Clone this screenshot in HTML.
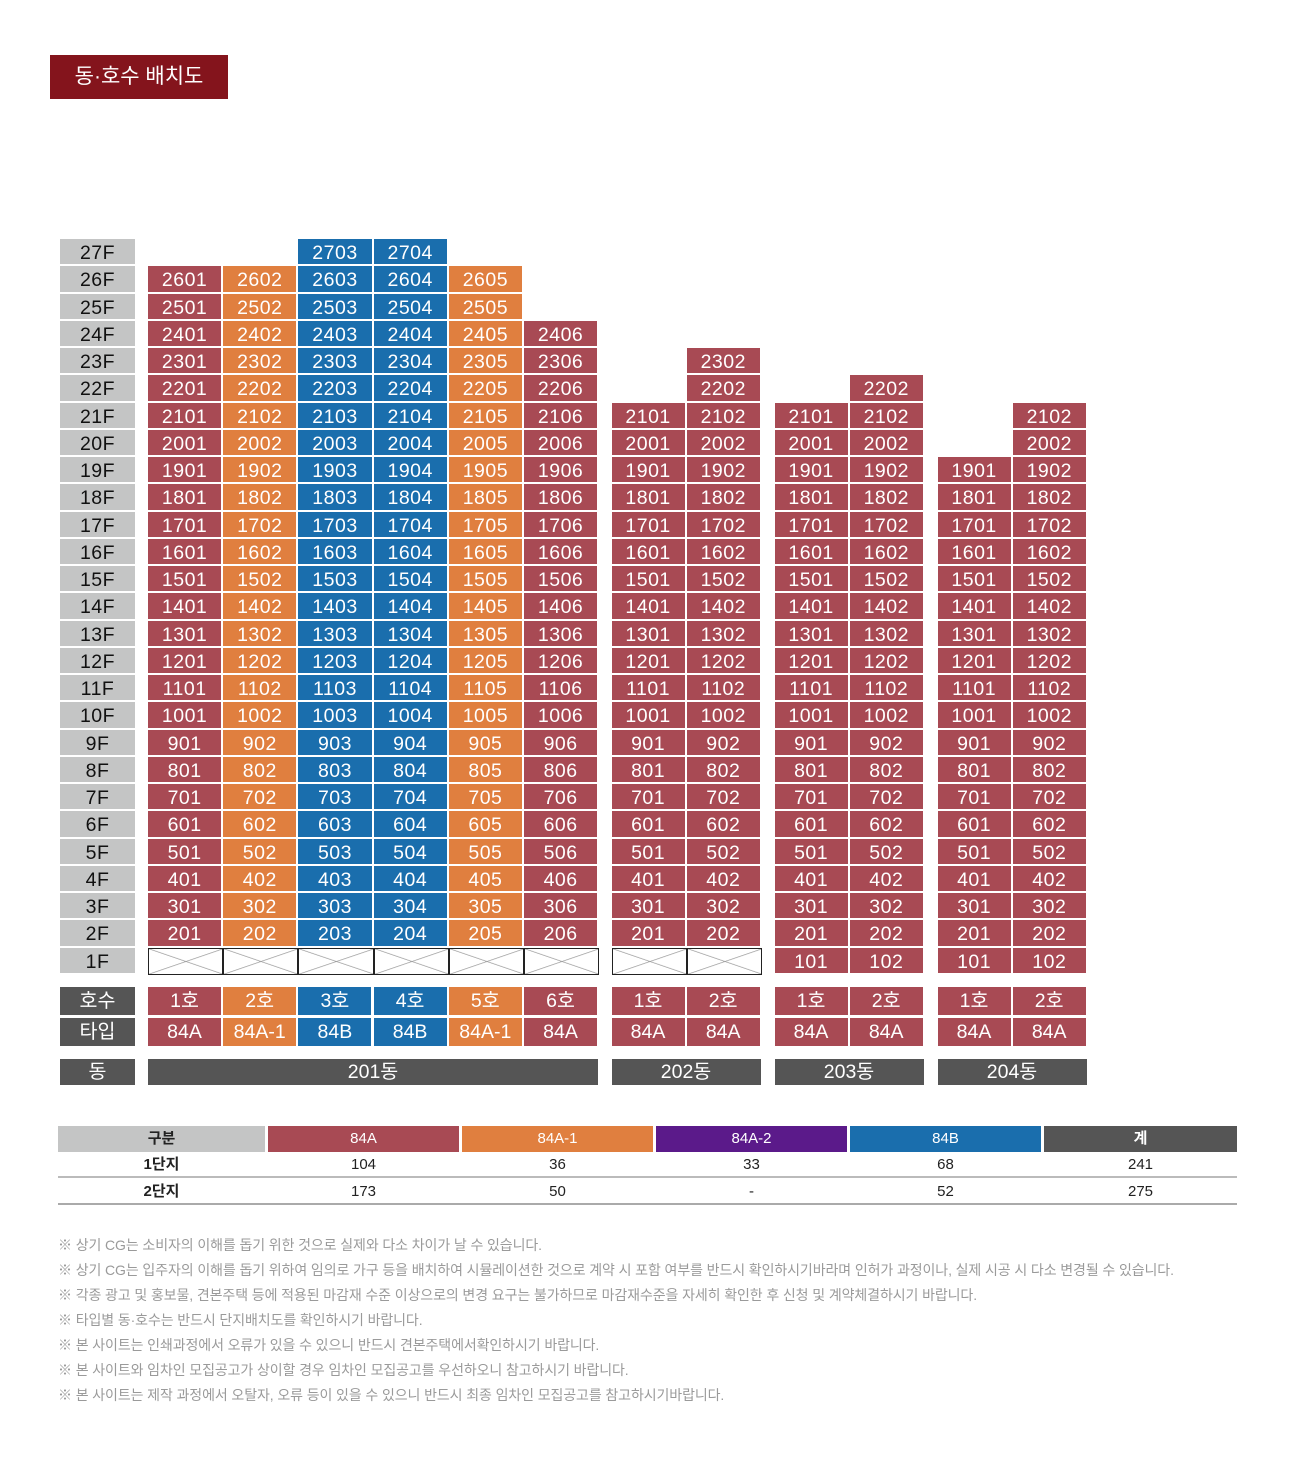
<!DOCTYPE html>
<html><head><meta charset="utf-8"><style>
*{margin:0;padding:0;box-sizing:border-box}
body{width:1300px;height:1459px;background:#fff;position:relative;overflow:hidden;font-family:"Liberation Sans","Noto Sans CJK KR",sans-serif}
.t{position:absolute;left:50px;top:55px;width:178px;height:44px;background:#84141c;color:#fff;font-size:21px;line-height:44px;text-align:center}
.c{position:absolute;width:75.2px}
.c i{display:block;font-style:normal;height:27.26px;border-right:2px solid #fff;border-bottom:2px solid #fff;color:#fff;font-size:19.5px;line-height:25px;padding-top:2px;text-align:center;letter-spacing:.5px}
.r i{background:#a84a54}.o i{background:#e07f3f}.b i{background:#1a6ead}
.f i{background:#c4c5c5;color:#111;border-right:none}
.c i.x{background:#fff;border:1.5px solid #222;background-image:linear-gradient(to top right,transparent 49%,#999 50%,transparent 52%),linear-gradient(to bottom right,transparent 49%,#999 50%,transparent 52%)}
.k{position:absolute;height:28px;color:#fff;font-size:19.5px;line-height:29px;text-align:center}
.tb{position:absolute;left:58px;top:1126px;width:1179px;font-size:15px}
.tb div{position:absolute;text-align:center}
.n{position:absolute;left:58px;color:#9a9a9a;font-size:14px;letter-spacing:-.1px}
</style></head><body>
<div class="t">동·호수 배치도</div>
<div class="c f" style="left:60px;top:239px;width:75px"><i>27F</i><i>26F</i><i>25F</i><i>24F</i><i>23F</i><i>22F</i><i>21F</i><i>20F</i><i>19F</i><i>18F</i><i>17F</i><i>16F</i><i>15F</i><i>14F</i><i>13F</i><i>12F</i><i>11F</i><i>10F</i><i>9F</i><i>8F</i><i>7F</i><i>6F</i><i>5F</i><i>4F</i><i>3F</i><i>2F</i><i>1F</i></div>

<div class="c r" style="left:148px;top:266.26px"><i>2601</i><i>2501</i><i>2401</i><i>2301</i><i>2201</i><i>2101</i><i>2001</i><i>1901</i><i>1801</i><i>1701</i><i>1601</i><i>1501</i><i>1401</i><i>1301</i><i>1201</i><i>1101</i><i>1001</i><i>901</i><i>801</i><i>701</i><i>601</i><i>501</i><i>401</i><i>301</i><i>201</i><i class="x"></i></div>
<div class="c o" style="left:223.2px;top:266.26px"><i>2602</i><i>2502</i><i>2402</i><i>2302</i><i>2202</i><i>2102</i><i>2002</i><i>1902</i><i>1802</i><i>1702</i><i>1602</i><i>1502</i><i>1402</i><i>1302</i><i>1202</i><i>1102</i><i>1002</i><i>902</i><i>802</i><i>702</i><i>602</i><i>502</i><i>402</i><i>302</i><i>202</i><i class="x"></i></div>
<div class="c b" style="left:298.4px;top:239px"><i>2703</i><i>2603</i><i>2503</i><i>2403</i><i>2303</i><i>2203</i><i>2103</i><i>2003</i><i>1903</i><i>1803</i><i>1703</i><i>1603</i><i>1503</i><i>1403</i><i>1303</i><i>1203</i><i>1103</i><i>1003</i><i>903</i><i>803</i><i>703</i><i>603</i><i>503</i><i>403</i><i>303</i><i>203</i><i class="x"></i></div>
<div class="c b" style="left:373.6px;top:239px"><i>2704</i><i>2604</i><i>2504</i><i>2404</i><i>2304</i><i>2204</i><i>2104</i><i>2004</i><i>1904</i><i>1804</i><i>1704</i><i>1604</i><i>1504</i><i>1404</i><i>1304</i><i>1204</i><i>1104</i><i>1004</i><i>904</i><i>804</i><i>704</i><i>604</i><i>504</i><i>404</i><i>304</i><i>204</i><i class="x"></i></div>
<div class="c o" style="left:448.8px;top:266.26px"><i>2605</i><i>2505</i><i>2405</i><i>2305</i><i>2205</i><i>2105</i><i>2005</i><i>1905</i><i>1805</i><i>1705</i><i>1605</i><i>1505</i><i>1405</i><i>1305</i><i>1205</i><i>1105</i><i>1005</i><i>905</i><i>805</i><i>705</i><i>605</i><i>505</i><i>405</i><i>305</i><i>205</i><i class="x"></i></div>
<div class="c r" style="left:524px;top:320.78px"><i>2406</i><i>2306</i><i>2206</i><i>2106</i><i>2006</i><i>1906</i><i>1806</i><i>1706</i><i>1606</i><i>1506</i><i>1406</i><i>1306</i><i>1206</i><i>1106</i><i>1006</i><i>906</i><i>806</i><i>706</i><i>606</i><i>506</i><i>406</i><i>306</i><i>206</i><i class="x"></i></div>

<div class="c r" style="left:611.5px;top:402.56px"><i>2101</i><i>2001</i><i>1901</i><i>1801</i><i>1701</i><i>1601</i><i>1501</i><i>1401</i><i>1301</i><i>1201</i><i>1101</i><i>1001</i><i>901</i><i>801</i><i>701</i><i>601</i><i>501</i><i>401</i><i>301</i><i>201</i><i class="x"></i></div>
<div class="c r" style="left:686.7px;top:348.04px"><i>2302</i><i>2202</i><i>2102</i><i>2002</i><i>1902</i><i>1802</i><i>1702</i><i>1602</i><i>1502</i><i>1402</i><i>1302</i><i>1202</i><i>1102</i><i>1002</i><i>902</i><i>802</i><i>702</i><i>602</i><i>502</i><i>402</i><i>302</i><i>202</i><i class="x"></i></div>

<div class="c r" style="left:774.5px;top:402.56px"><i>2101</i><i>2001</i><i>1901</i><i>1801</i><i>1701</i><i>1601</i><i>1501</i><i>1401</i><i>1301</i><i>1201</i><i>1101</i><i>1001</i><i>901</i><i>801</i><i>701</i><i>601</i><i>501</i><i>401</i><i>301</i><i>201</i><i>101</i></div>
<div class="c r" style="left:849.7px;top:375.3px"><i>2202</i><i>2102</i><i>2002</i><i>1902</i><i>1802</i><i>1702</i><i>1602</i><i>1502</i><i>1402</i><i>1302</i><i>1202</i><i>1102</i><i>1002</i><i>902</i><i>802</i><i>702</i><i>602</i><i>502</i><i>402</i><i>302</i><i>202</i><i>102</i></div>

<div class="c r" style="left:937.5px;top:457.08px"><i>1901</i><i>1801</i><i>1701</i><i>1601</i><i>1501</i><i>1401</i><i>1301</i><i>1201</i><i>1101</i><i>1001</i><i>901</i><i>801</i><i>701</i><i>601</i><i>501</i><i>401</i><i>301</i><i>201</i><i>101</i></div>
<div class="c r" style="left:1012.7px;top:402.56px"><i>2102</i><i>2002</i><i>1902</i><i>1802</i><i>1702</i><i>1602</i><i>1502</i><i>1402</i><i>1302</i><i>1202</i><i>1102</i><i>1002</i><i>902</i><i>802</i><i>702</i><i>602</i><i>502</i><i>402</i><i>302</i><i>202</i><i>102</i></div>

<div class="k" style="left:60px;top:987px;width:75px;background:#555">호수</div>
<div class="k" style="left:60px;top:1018px;width:75px;background:#555">타입</div>
<div class="k" style="left:148px;top:987px;width:73px;background:#a84a54">1호</div>
<div class="k" style="left:223.2px;top:987px;width:73px;background:#e07f3f">2호</div>
<div class="k" style="left:298.4px;top:987px;width:73px;background:#1a6ead">3호</div>
<div class="k" style="left:373.6px;top:987px;width:73px;background:#1a6ead">4호</div>
<div class="k" style="left:448.8px;top:987px;width:73px;background:#e07f3f">5호</div>
<div class="k" style="left:524px;top:987px;width:73px;background:#a84a54">6호</div>
<div class="k" style="left:611.5px;top:987px;width:73px;background:#a84a54">1호</div>
<div class="k" style="left:686.7px;top:987px;width:73px;background:#a84a54">2호</div>
<div class="k" style="left:774.5px;top:987px;width:73px;background:#a84a54">1호</div>
<div class="k" style="left:849.7px;top:987px;width:73px;background:#a84a54">2호</div>
<div class="k" style="left:937.5px;top:987px;width:73px;background:#a84a54">1호</div>
<div class="k" style="left:1012.7px;top:987px;width:73px;background:#a84a54">2호</div>
<div class="k" style="left:148px;top:1018px;width:73px;background:#a84a54">84A</div>
<div class="k" style="left:223.2px;top:1018px;width:73px;background:#e07f3f">84A-1</div>
<div class="k" style="left:298.4px;top:1018px;width:73px;background:#1a6ead">84B</div>
<div class="k" style="left:373.6px;top:1018px;width:73px;background:#1a6ead">84B</div>
<div class="k" style="left:448.8px;top:1018px;width:73px;background:#e07f3f">84A-1</div>
<div class="k" style="left:524px;top:1018px;width:73px;background:#a84a54">84A</div>
<div class="k" style="left:611.5px;top:1018px;width:73px;background:#a84a54">84A</div>
<div class="k" style="left:686.7px;top:1018px;width:73px;background:#a84a54">84A</div>
<div class="k" style="left:774.5px;top:1018px;width:73px;background:#a84a54">84A</div>
<div class="k" style="left:849.7px;top:1018px;width:73px;background:#a84a54">84A</div>
<div class="k" style="left:937.5px;top:1018px;width:73px;background:#a84a54">84A</div>
<div class="k" style="left:1012.7px;top:1018px;width:73px;background:#a84a54">84A</div>

<div class="k" style="left:60px;top:1059px;width:75px;height:26px;line-height:27px;background:#555">동</div>
<div class="k" style="left:148px;top:1059px;width:450px;height:26px;line-height:27px;background:#555">201동</div>
<div class="k" style="left:611.5px;top:1059px;width:149px;height:26px;line-height:27px;background:#555">202동</div>
<div class="k" style="left:774.5px;top:1059px;width:149px;height:26px;line-height:27px;background:#555">203동</div>
<div class="k" style="left:937.5px;top:1059px;width:149px;height:26px;line-height:27px;background:#555">204동</div>

<div class="tb">
<div style="left:0;top:0;width:207px;height:26px;line-height:26px;background:#c4c5c5;color:#222;font-weight:bold">구분</div>
<div style="left:210px;top:0;width:191px;height:26px;line-height:26px;background:#a84a54;color:#fff">84A</div>
<div style="left:404px;top:0;width:191px;height:26px;line-height:26px;background:#e07f3f;color:#fff">84A-1</div>
<div style="left:598px;top:0;width:191px;height:26px;line-height:26px;background:#5b1a8a;color:#fff">84A-2</div>
<div style="left:792px;top:0;width:191px;height:26px;line-height:26px;background:#1a6ead;color:#fff">84B</div>
<div style="left:986px;top:0;width:193px;height:26px;line-height:26px;background:#555;color:#fff;font-weight:bold">계</div>
<div style="left:0;top:26px;width:1179px;height:26px;line-height:26px;border-bottom:2px solid #bbb"></div>
<div style="left:0;top:53px;width:1179px;height:26px;line-height:26px;border-bottom:2px solid #aaa"></div>
<div style="left:0;top:26px;width:207px;line-height:26px;font-weight:bold;color:#222">1단지</div>
<div style="left:210px;top:26px;width:191px;line-height:26px;color:#222">104</div>
<div style="left:404px;top:26px;width:191px;line-height:26px;color:#222">36</div>
<div style="left:598px;top:26px;width:191px;line-height:26px;color:#222">33</div>
<div style="left:792px;top:26px;width:191px;line-height:26px;color:#222">68</div>
<div style="left:986px;top:26px;width:193px;line-height:26px;color:#222">241</div>
<div style="left:0;top:53px;width:207px;line-height:26px;font-weight:bold;color:#222">2단지</div>
<div style="left:210px;top:53px;width:191px;line-height:26px;color:#222">173</div>
<div style="left:404px;top:53px;width:191px;line-height:26px;color:#222">50</div>
<div style="left:598px;top:53px;width:191px;line-height:26px;color:#222">-</div>
<div style="left:792px;top:53px;width:191px;line-height:26px;color:#222">52</div>
<div style="left:986px;top:53px;width:193px;line-height:26px;color:#222">275</div>
</div>

<div class="n" style="top:1235px">※ 상기 CG는 소비자의 이해를 돕기 위한 것으로 실제와 다소 차이가 날 수 있습니다.</div>
<div class="n" style="top:1260px">※ 상기 CG는 입주자의 이해를 돕기 위하여 임의로 가구 등을 배치하여 시뮬레이션한 것으로 계약 시 포함 여부를 반드시 확인하시기바라며 인허가 과정이나, 실제 시공 시 다소 변경될 수 있습니다.</div>
<div class="n" style="top:1285px">※ 각종 광고 및 홍보물, 견본주택 등에 적용된 마감재 수준 이상으로의 변경 요구는 불가하므로 마감재수준을 자세히 확인한 후 신청 및 계약체결하시기 바랍니다.</div>
<div class="n" style="top:1310px">※ 타입별 동·호수는 반드시 단지배치도를 확인하시기 바랍니다.</div>
<div class="n" style="top:1335px">※ 본 사이트는 인쇄과정에서 오류가 있을 수 있으니 반드시 견본주택에서확인하시기 바랍니다.</div>
<div class="n" style="top:1360px">※ 본 사이트와 임차인 모집공고가 상이할 경우 임차인 모집공고를 우선하오니 참고하시기 바랍니다.</div>
<div class="n" style="top:1385px">※ 본 사이트는 제작 과정에서 오탈자, 오류 등이 있을 수 있으니 반드시 최종 임차인 모집공고를 참고하시기바랍니다.</div>
</body></html>
